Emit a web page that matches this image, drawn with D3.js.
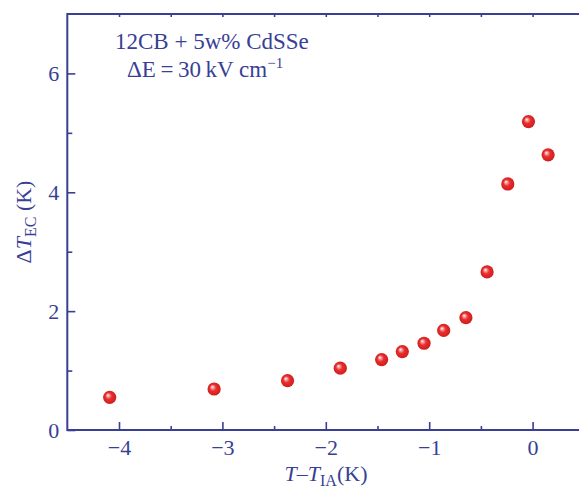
<!DOCTYPE html>
<html><head><meta charset="utf-8">
<script src="https://cdn.jsdelivr.net/npm/d3@7/dist/d3.min.js"></script>
<style>body{margin:0;background:#fff}svg{display:block}</style>
</head><body><svg id="c" width="579" height="491"></svg>
<script>
const xValues = [-4.09, -3.08, -2.37, -1.86, -1.46, -1.26, -1.05, -0.86, -0.645, -0.44, -0.24, -0.04, 0.15];
const yValues = [0.55, 0.69, 0.83, 1.04, 1.185, 1.32, 1.46, 1.675, 1.89, 2.66, 4.14, 5.19, 4.63];
const xTicks = [-4, -3, -2, -1, 0];
const xMinor = [-3.5, -2.5, -1.5, -0.5];
const yTicks = [0, 2, 4, 6];
const yMinor = [1, 3, 5];

const C = "#383f95";
const F = "'Liberation Serif','Times New Roman',serif";
const svg = d3.select("#c");
const x = d3.scaleLinear().domain([-4.5, 0.5]).range([67.3, 584.3]);
const y = d3.scaleLinear().domain([0, 7]).range([430, 14]);

const defs = svg.append("defs");
const g = defs.append("radialGradient").attr("id","ball").attr("cx","50%").attr("cy","50%").attr("r","55%").attr("fx","35%").attr("fy","33%");
g.append("stop").attr("offset","0%").attr("stop-color","#ffffff");
g.append("stop").attr("offset","18%").attr("stop-color","#f3a4a4");
g.append("stop").attr("offset","45%").attr("stop-color","#ec2d2d");
g.append("stop").attr("offset","100%").attr("stop-color","#c91b1b");

const fmt = d => d < 0 ? "\u2212" + Math.abs(d) : String(d);
function ax(axis, tr) {
  const a = svg.append("g").attr("transform", tr).call(axis);
  a.select(".domain").remove();
  a.selectAll("line").attr("stroke", C).attr("stroke-width", 1.6);
  a.selectAll("text").attr("fill", C).style("font-family", F).style("font-size", "22px");
  return a;
}
ax(d3.axisBottom(x).tickValues(xTicks).tickSize(-8).tickPadding(9).tickFormat(fmt), "translate(0,430)");
ax(d3.axisBottom(x).tickValues(xMinor).tickSize(-4).tickFormat(""), "translate(0,430)");
ax(d3.axisTop(x).tickValues(xTicks.concat(xMinor)).tickSize(-3).tickFormat(""), "translate(0,14)");
ax(d3.axisLeft(y).tickValues(yTicks).tickSize(-8).tickPadding(8).tickFormat(fmt), "translate(67.3,0)");
ax(d3.axisLeft(y).tickValues(yMinor).tickSize(-5).tickFormat(""), "translate(67.3,0)");

// frame
svg.append("rect").attr("x", 67.3).attr("y", 14).attr("width", 584.3-67.3).attr("height", 416)
  .attr("fill","none").attr("stroke", C).attr("stroke-width", 2);

// points
svg.append("g").selectAll("circle").data(xValues).join("circle")
  .attr("cx", d => x(d)).attr("cy", (d,i) => y(yValues[i])).attr("r", 6.6)
  .attr("fill","url(#ball)");

// annotation
svg.append("text").attr("x", 115).attr("y", 49).attr("fill", C).style("font-family", F).style("font-size","23px")
  .text("12CB + 5w% CdSSe");
const t2 = svg.append("text").attr("x", 127).attr("y", 77).attr("fill", C).style("font-family", F).style("font-size","23px");
t2.append("tspan").text("\u0394E\u2009=\u200930\u2009kV cm");
t2.append("tspan").attr("dy", -9).style("font-size","15px").text("\u22121");

// x title
const xt = svg.append("text").attr("x", 326).attr("y", 481).attr("text-anchor","middle").attr("fill", C).style("font-family", F).style("font-size","22px");
xt.append("tspan").style("font-style","italic").text("T");
xt.append("tspan").text("\u2013");
xt.append("tspan").style("font-style","italic").text("T");
xt.append("tspan").attr("dy", 5).style("font-size","16px").text("IA");
xt.append("tspan").attr("dy", -5).text("(K)");

// y title
const yt = svg.append("text").attr("transform","translate(31,222) rotate(-90)").attr("text-anchor","middle").attr("fill", C).style("font-family", F).style("font-size","22px");
yt.append("tspan").text("\u0394");
yt.append("tspan").style("font-style","italic").text("T");
yt.append("tspan").attr("dy", 5).style("font-size","16px").text("EC");
yt.append("tspan").attr("dy", -5).text(" (K)");
</script></body></html>
